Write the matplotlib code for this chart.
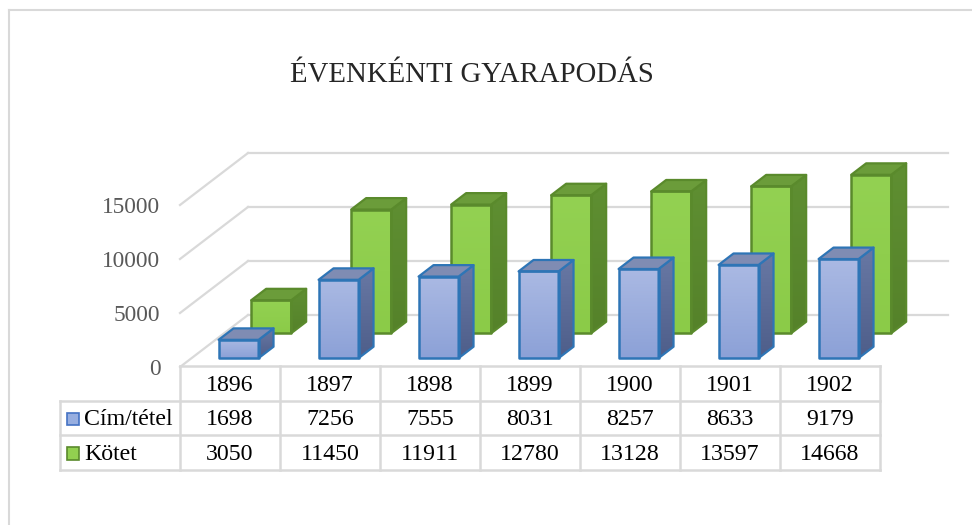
import matplotlib
matplotlib.use("Agg")
import matplotlib.pyplot as plt
import numpy as np
from matplotlib.patches import Polygon, Rectangle
from matplotlib.lines import Line2D

# Adatok
years = ["1896", "1897", "1898", "1899", "1900", "1901", "1902"]
cim_tetel = [1698, 7256, 7555, 8031, 8257, 8633, 9179]
kotet = [3050, 11450, 11911, 12780, 13128, 13597, 14668]
series_names = ["Cím/tétel", "Kötet"]
y_ticks = [0, 5000, 10000, 15000]
title = "ÉVENKÉNTI GYARAPODÁS"

plt.rcParams["font.family"] = ["Liberation Serif", "DejaVu Serif"]

W, H = 972, 525
fig = plt.figure(figsize=(W / 100, H / 100), dpi=100)

# 3D-s hatás paraméterei (ferde vetítés)
dx = 0.68          # mélység vízszintes eltolása (kategória egységben)
dy = 4815          # mélység függőleges eltolása (érték egységben)
bar_w = 0.40
bar_off = 0.27
bar_d = 0.22
px_per_val = 54 / 5000

# series: (values, front depth, front colours, side colours, top colour, edge)
series = [
    (kotet, 0.65, ("#93d152", "#8bcb48"), ("#5f8f32", "#55822a"), "#6b9c3a", "#5a8a2c"),
    (cim_tetel, 0.17, ("#aab9e3", "#8ca1d7"), ("#6878a4", "#4e5e8a"), "#7f8cb3", "#2e75b6"),
]

ax_left, ax_bottom = 180, 367
ylim_top = 20000
ax = fig.add_axes([ax_left / W, (H - ax_bottom) / H,
                   (7 + dx) * 100 / W, ylim_top * px_per_val / H])
ax.set_xlim(0, 7 + dx)
ax.set_ylim(0, ylim_top)
for s in ax.spines.values():
    s.set_visible(False)
ax.set_xticks([])
ax.set_yticks(y_ticks)
ax.set_yticklabels([str(t) for t in y_ticks])
ax.tick_params(axis="y", length=0, pad=14, labelsize=16.8, labelcolor="#595959")

grid_c = "#d9d9d9"
# padló és hátsó fal rácsvonalai
for v in y_ticks:
    ax.plot([0, dx], [v, v + dy], color=grid_c, lw=1.6, zorder=1, clip_on=False)
    ax.plot([dx, 7 + dx], [v + dy, v + dy], color=grid_c, lw=1.6, zorder=1, clip_on=False)


def grad_fill(poly_xy, c_top, c_bot, z):
    xs = [p[0] for p in poly_xy]
    ys = [p[1] for p in poly_xy]
    cmap = matplotlib.colors.LinearSegmentedColormap.from_list("g", [c_bot, c_top])
    im = ax.imshow(np.linspace(0, 1, 50).reshape(-1, 1), cmap=cmap, aspect="auto",
                   origin="lower", extent=[min(xs), max(xs), min(ys), max(ys)],
                   zorder=z, interpolation="bilinear")
    clip = Polygon(poly_xy, closed=True, transform=ax.transData, facecolor="none",
                   edgecolor="none")
    ax.add_patch(clip)
    im.set_clip_path(clip)
    im.set_clip_on(True)


z = 2
for vals, f, front_c, side_c, top_c, edge_c in series:
    for i, v in enumerate(vals):
        x0 = i + bar_off + f * dx
        x1 = x0 + bar_w
        y0 = f * dy
        y1 = y0 + v
        ddx, ddy = bar_d * dx, bar_d * dy
        front = [(x0, y0), (x1, y0), (x1, y1), (x0, y1)]
        side = [(x1, y0), (x1 + ddx, y0 + ddy), (x1 + ddx, y1 + ddy), (x1, y1)]
        top = [(x0, y1), (x1, y1), (x1 + ddx, y1 + ddy), (x0 + ddx, y1 + ddy)]
        grad_fill(side, side_c[0], side_c[1], z)
        ax.add_patch(Polygon(side, closed=True, facecolor="none", edgecolor=edge_c,
                             lw=1.6, zorder=z + 0.5, joinstyle="round"))
        ax.add_patch(Polygon(top, closed=True, facecolor=top_c, edgecolor=edge_c,
                             lw=1.6, zorder=z + 0.5, joinstyle="round"))
        grad_fill(front, front_c[0], front_c[1], z)
        ax.add_patch(Polygon(front, closed=True, facecolor="none", edgecolor=edge_c,
                             lw=1.8, zorder=z + 0.6, joinstyle="round"))
        z += 1
ax.set_xlim(0, 7 + dx)
ax.set_ylim(0, ylim_top)

# Adattábla
tb_left, tb_top, tb_bottom = 60, 366, 470
tax = fig.add_axes([tb_left / W, (H - tb_bottom) / H,
                    (ax_left - tb_left + 700) / W, (tb_bottom - tb_top) / H])
lead = (ax_left - tb_left) / 100
tax.set_xlim(-lead, 7)
tax.set_ylim(3, 0)
tax.axis("off")
lc = "#d9d9d9"
tax.plot([0, 7], [0, 0], color=lc, lw=1.8, clip_on=False)
for r in [1, 2, 3]:
    tax.plot([-lead, 7], [r, r], color=lc, lw=1.8, clip_on=False)
for c in range(8):
    tax.plot([c, c], [0, 3], color=lc, lw=1.8, clip_on=False)
tax.plot([-lead, -lead], [1, 3], color=lc, lw=1.8, clip_on=False)

fs = 17.2
for i, yr in enumerate(years):
    tax.text(i + 0.5, 0.55, yr, ha="center", va="center", fontsize=fs, color="black")
    tax.text(i + 0.5, 1.55, str(cim_tetel[i]), ha="center", va="center", fontsize=fs,
             color="black")
    tax.text(i + 0.5, 2.55, str(kotet[i]), ha="center", va="center", fontsize=fs,
             color="black")

legend_sq = [("#97aee0", "#4472c4"), ("#92d050", "#5a8a2c")]
for r, (name, (fc, ec)) in enumerate(zip(series_names, legend_sq)):
    tax.add_patch(Rectangle((-lead + 0.07, r + 1.35), 0.12, 0.36, facecolor=fc,
                            edgecolor=ec, lw=1.2, clip_on=False))
    tax.text(-lead + 0.24, r + 1.55, name, ha="left", va="center", fontsize=fs,
             color="black")

# Cím
fig.text(472 / W, (H - 82) / H, title, ha="center", va="baseline", fontsize=20.7,
         color="#262626")

# Diagramterület kerete
bx, by = 9 / W, 1 - 10 / H
fig.add_artist(Line2D([bx, bx], [0, by], color="#d9d9d9", lw=1.5))
fig.add_artist(Line2D([bx, 1], [by, by], color="#d9d9d9", lw=1.5))

fig.savefig("out.png", dpi=100)
